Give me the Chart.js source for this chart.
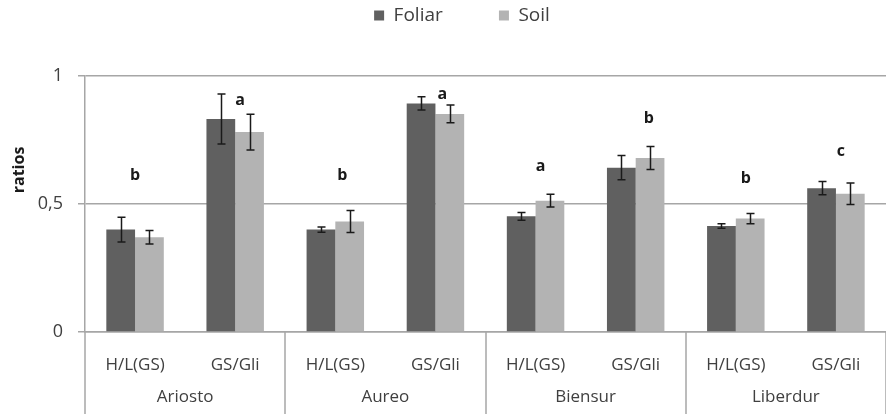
<!DOCTYPE html>
<html><head><meta charset="utf-8">
<script src="https://cdn.jsdelivr.net/npm/chart.js@4"></script>
<style>html,body{margin:0;padding:0;background:#fff}</style>
</head><body>
<canvas id="c" width="886" height="414"></canvas>
<script>
const cultivars = ['Ariosto', 'Aureo', 'Biensur', 'Liberdur'];
const ratioLabels = ['H/L(GS)', 'GS/Gli', 'H/L(GS)', 'GS/Gli', 'H/L(GS)', 'GS/Gli', 'H/L(GS)', 'GS/Gli'];
const foliar    = [0.400, 0.832, 0.400, 0.893, 0.452, 0.642, 0.414, 0.562];
const foliarErr = [0.048, 0.098, 0.010, 0.026, 0.015, 0.047, 0.009, 0.026];
const soil      = [0.370, 0.781, 0.432, 0.852, 0.513, 0.680, 0.443, 0.540];
const soilErr   = [0.026, 0.070, 0.043, 0.035, 0.025, 0.045, 0.020, 0.042];
const letterText = ['b', 'a', 'b', 'a', 'a', 'b', 'b', 'c'];
const letterY    = [0.61, 0.903, 0.61, 0.928, 0.648, 0.835, 0.60, 0.707];
const letterX    = [0, 1.05, 2.07, 3.07, 4.05, 5.13, 6.10, 7.05];
const yTickLabels = ['0', '0,5', '1'];
const yTitle = 'ratios';

const FONT = '"Open Sans", "DejaVu Sans", sans-serif';
const TXT = '#404040';
const GRID = '#a6a6a6';

const extras = {
  id: 'extras',
  afterInit(chart) {
    const lg = chart.legend;
    const origFit = lg.fit.bind(lg);
    lg.fit = function () { origFit(); this.height = 76; };
  },
  afterLayout(chart) {
    chart.legend.left += 38;
  },
  afterDatasetsDraw(chart) {
    const ctx = chart.ctx;
    const x = chart.scales.x, y = chart.scales.y;
    const errs = [foliarErr, soilErr];
    const vals = [foliar, soil];
    ctx.save();
    ctx.strokeStyle = '#1a1a1a';
    ctx.lineWidth = 1.5;
    errs.forEach((err, d) => {
      chart.getDatasetMeta(d).data.forEach((bar, i) => {
        const yt = y.getPixelForValue(vals[d][i] + err[i]);
        const yb = y.getPixelForValue(vals[d][i] - err[i]);
        const cx = Math.round(bar.x) + 0.5;
        ctx.beginPath();
        ctx.moveTo(cx, yt); ctx.lineTo(cx, yb);
        ctx.moveTo(cx - 4, yt); ctx.lineTo(cx + 4, yt);
        ctx.moveTo(cx - 4, yb); ctx.lineTo(cx + 4, yb);
        ctx.stroke();
      });
    });
    ctx.fillStyle = '#1a1a1a';
    ctx.font = 'bold 16px ' + FONT;
    ctx.textAlign = 'center';
    ctx.textBaseline = 'middle';
    letterText.forEach((t, i) => {
      ctx.fillText(t, x.getPixelForValue(letterX[i]), y.getPixelForValue(letterY[i]));
    });
    ctx.restore();
  },
  afterDraw(chart) {
    const ctx = chart.ctx;
    const x = chart.scales.x, y = chart.scales.y;
    const area = chart.chartArea;
    ctx.save();
    ctx.strokeStyle = GRID;
    ctx.lineWidth = 1.5;
    for (let g = 0; g <= cultivars.length; g++) {
      const px = Math.round(x.getPixelForValue(2 * g - 0.5));
      ctx.beginPath();
      ctx.moveTo(px, area.bottom);
      ctx.lineTo(px, chart.height);
      ctx.stroke();
    }
    ctx.fillStyle = TXT;
    ctx.font = '17px ' + FONT;
    ctx.textAlign = 'center';
    ctx.textBaseline = 'middle';
    cultivars.forEach((c, g) => {
      ctx.fillText(c, x.getPixelForValue(2 * g + 0.5), area.bottom + 65);
    });
    ctx.translate(19, y.getPixelForValue(0.633));
    ctx.rotate(-Math.PI / 2);
    ctx.font = 'bold 16px ' + FONT;
    ctx.fillStyle = '#1a1a1a';
    ctx.fillText(yTitle, 0, 0);
    ctx.restore();
  }
};

new Chart(document.getElementById('c'), {
  type: 'bar',
  data: {
    labels: ratioLabels,
    datasets: [
      { label: 'Foliar', data: foliar, backgroundColor: '#606060', categoryPercentage: 0.574, barPercentage: 1.0 },
      { label: 'Soil', data: soil, backgroundColor: '#b3b3b3', categoryPercentage: 0.574, barPercentage: 1.0 }
    ]
  },
  options: {
    responsive: false,
    animation: false,
    layout: { padding: 0 },
    plugins: {
      tooltip: { enabled: false },
      legend: {
        position: 'top',
        labels: {
          color: TXT,
          font: { family: FONT, size: 19 },
          boxWidth: 10,
          boxHeight: 10,
          padding: 6,
          generateLabels(chart) {
            const items = Chart.defaults.plugins.legend.labels.generateLabels(chart);
            items.forEach(it => { it.lineWidth = 0; it.strokeStyle = 'rgba(0,0,0,0)'; });
            const spacer = { text: '     ', fillStyle: 'rgba(0,0,0,0)', strokeStyle: 'rgba(0,0,0,0)', lineWidth: 0, hidden: false, datasetIndex: -1 };
            return [items[0], spacer, items[1]];
          }
        }
      }
    },
    scales: {
      x: {
        afterFit(scale) { scale.height = 82; },
        grid: { display: false, drawTicks: false },
        border: { display: true, color: GRID, width: 1.5 },
        ticks: { color: TXT, font: { family: FONT, size: 17 }, padding: 23, maxRotation: 0, autoSkip: false }
      },
      y: {
        min: 0, max: 1,
        afterFit(scale) { scale.width = 85; },
        afterBuildTicks(scale) { scale.ticks = [0, 0.5, 1].map(v => ({ value: v })); },
        grid: { color: GRID, lineWidth: 1.5, tickLength: 7, drawTicks: true },
        border: { display: true, color: GRID, width: 1.5 },
        ticks: {
          color: TXT, font: { family: FONT, size: 18 }, padding: 15,
          callback: (v, i) => yTickLabels[i]
        }
      }
    }
  },
  plugins: [extras]
});
</script>
</body></html>
